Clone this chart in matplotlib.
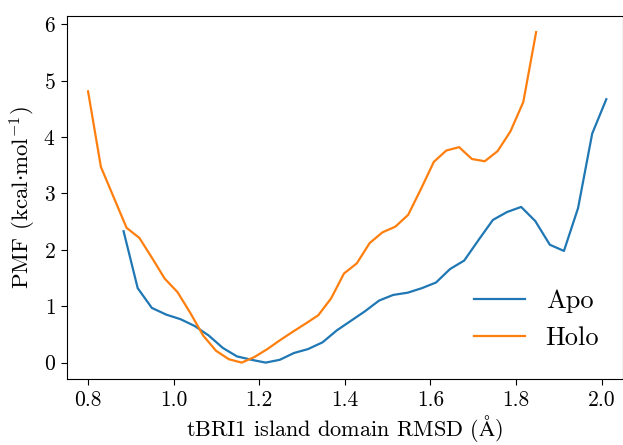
import numpy as np
import matplotlib
matplotlib.use('Agg')
import matplotlib.pyplot as plt

# LaTeX-looking text without a LaTeX install
plt.rcParams['font.family'] = 'serif'
plt.rcParams['font.serif'] = ['cmr10']
plt.rcParams['mathtext.fontset'] = 'cm'
plt.rcParams['axes.unicode_minus'] = False
plt.rcParams['axes.formatter.use_mathtext'] = True

# RMSD bin centres (Angstrom) and PMF values (kcal/mol)
apoRmsd = [0.883, 0.916, 0.949, 0.983, 1.016, 1.049, 1.082, 1.115, 1.148, 1.182,
           1.215, 1.248, 1.281, 1.314, 1.348, 1.381, 1.414, 1.447, 1.480, 1.513,
           1.547, 1.580, 1.613, 1.646, 1.679, 1.713, 1.746, 1.779, 1.812, 1.845,
           1.879, 1.912, 1.945, 1.978, 2.011]
apoPmf = [2.33, 1.32, 0.97, 0.85, 0.77, 0.65, 0.48, 0.26, 0.11, 0.05,
          0.00, 0.05, 0.17, 0.24, 0.36, 0.57, 0.74, 0.91, 1.10, 1.20,
          1.24, 1.32, 1.42, 1.66, 1.81, 2.18, 2.53, 2.67, 2.76, 2.51,
          2.09, 1.98, 2.74, 4.06, 4.67]

holoRmsd = [0.800, 0.830, 0.860, 0.890, 0.920, 0.950, 0.979, 1.009, 1.039, 1.069,
            1.099, 1.129, 1.159, 1.189, 1.219, 1.249, 1.279, 1.308, 1.338, 1.368,
            1.398, 1.428, 1.458, 1.488, 1.518, 1.548, 1.578, 1.608, 1.637, 1.667,
            1.697, 1.727, 1.757, 1.787, 1.817, 1.847]
holoPmf = [4.81, 3.47, 2.93, 2.39, 2.21, 1.85, 1.49, 1.25, 0.88, 0.48,
           0.21, 0.06, 0.00, 0.10, 0.24, 0.40, 0.55, 0.69, 0.84, 1.14,
           1.58, 1.76, 2.12, 2.31, 2.41, 2.62, 3.08, 3.56, 3.76, 3.82,
           3.61, 3.57, 3.75, 4.10, 4.62, 5.86]

fig = plt.figure(figsize=(6.23, 4.45), dpi=100)
ax = fig.add_axes([0.107, 0.148, 0.893, 0.817])

ax.plot(apoRmsd, apoPmf, color='#1f77b4', linewidth=1.6, label='Apo')
ax.plot(holoRmsd, holoPmf, color='#ff7f0e', linewidth=1.6, label='Holo')

ax.set_xlim(0.75, 2.05)
ax.set_xticks([0.8, 1.0, 1.2, 1.4, 1.6, 1.8, 2.0])
ax.set_xticklabels(['0.8', '1.0', '1.2', '1.4', '1.6', '1.8', '2.0'])
ax.set_yticks(range(0, 7))
ax.tick_params(labelsize=15.5, length=4.5)

ax.set_xlabel(r'tBRI1 island domain RMSD ($\mathrm{\AA}$)', fontsize=16, labelpad=2)
ax.set_ylabel(r'PMF (kcal$\cdot$mol$^{-1}$)', fontsize=16.5)

ax.legend(loc='lower right', frameon=False, fontsize=19, handlelength=1.9,
          bbox_to_anchor=(1.0, 0.015))

fig.savefig('out.png', dpi=100)
